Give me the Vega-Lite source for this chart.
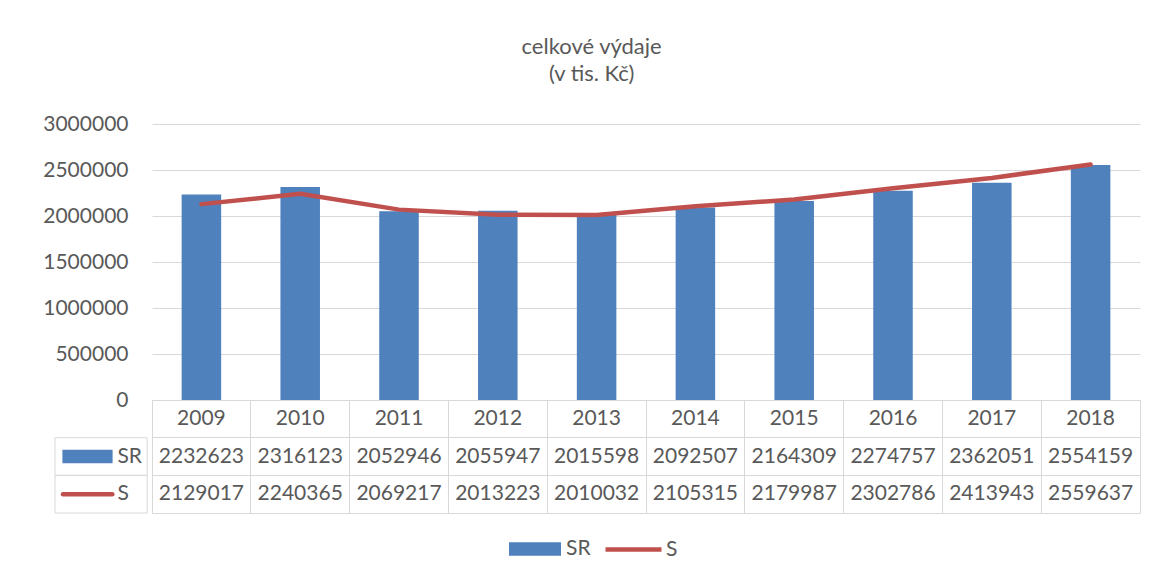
{
  "$schema": "https://vega.github.io/schema/vega-lite/v6.json",
  "padding": {"left": 42, "top": 36, "right": 5, "bottom": 5},
  "background": "white",
  "title": {"text": ["celkové výdaje", "(v tis. Kč)"], "fontSize": 22, "fontWeight": "normal", "color": "#595959", "font": "Lato", "anchor": "middle", "lineHeight": 27, "offset": 27},
  "datasets": {
    "d": [
      {"year": "2009", "SR": 2232623, "S": 2129017},
      {"year": "2010", "SR": 2316123, "S": 2240365},
      {"year": "2011", "SR": 2052946, "S": 2069217},
      {"year": "2012", "SR": 2055947, "S": 2013223},
      {"year": "2013", "SR": 2015598, "S": 2010032},
      {"year": "2014", "SR": 2092507, "S": 2105315},
      {"year": "2015", "SR": 2164309, "S": 2179987},
      {"year": "2016", "SR": 2274757, "S": 2302786},
      {"year": "2017", "SR": 2362051, "S": 2413943},
      {"year": "2018", "SR": 2554159, "S": 2559637}
    ]
  },
  "spacing": 0,
  "resolve": {"scale": {"fill": "shared", "stroke": "shared"}, "legend": {"fill": "shared", "stroke": "shared"}},
  "hconcat": [
    {
      "spacing": 0,
      "bounds": "flush",
      "vconcat": [
        {
          "width": 96,
          "height": 276,
          "view": {"stroke": null},
          "data": {"name": "d"},
          "mark": {"type": "point", "opacity": 0},
          "encoding": {
            "y": {"field": "SR", "type": "quantitative", "scale": {"domain": [0, 3000000], "nice": false},
              "axis": {"orient": "left", "offset": -96, "values": [0, 500000, 1000000, 1500000, 2000000, 2500000, 3000000], "format": "d", "title": null, "grid": false, "domain": false, "ticks": false, "labelFontSize": 21, "labelColor": "#595959", "labelPadding": 23}}
          }
        },
        {
          "width": 96,
          "height": 113,
          "view": {"stroke": null},
          "data": {"values": [{"series": "SR"}, {"series": "S"}]},
          "encoding": {
            "y": {"field": "series", "type": "nominal", "scale": {"type": "band", "domain": ["year", "SR", "S"], "paddingInner": 0, "paddingOuter": 0}, "axis": null}
          },
          "layer": [
            {
              "mark": {"type": "rect", "fill": "transparent", "stroke": "#d9d9d9", "strokeWidth": 1},
              "encoding": {"x": {"datum": 0, "type": "quantitative", "scale": {"domain": [0, 96]}, "axis": null}, "x2": {"datum": 96}}
            },
            {
              "transform": [{"filter": "datum.series === 'SR'"}],
              "mark": {"type": "bar", "color": "#4f81bd", "height": {"band": 0.36}},
              "encoding": {"x": {"datum": 7.7, "type": "quantitative"}, "x2": {"datum": 60}}
            },
            {
              "transform": [{"filter": "datum.series === 'S'"}],
              "mark": {"type": "rule", "color": "#c0504d", "strokeWidth": 4.5, "strokeCap": "round"},
              "encoding": {"x": {"datum": 8.3, "type": "quantitative"}, "x2": {"datum": 59.7}}
            },
            {
              "mark": {"type": "text", "align": "left", "baseline": "middle", "fontSize": 21, "color": "#595959"},
              "encoding": {"x": {"datum": 65, "type": "quantitative"}, "text": {"field": "series"}}
            }
          ]
        }
      ]
    },
    {
      "spacing": 0,
      "bounds": "flush",
      "vconcat": [
        {
          "width": 988,
          "height": 276,
          "view": {"stroke": null},
          "data": {"name": "d"},
          "transform": [{"fold": ["SR", "S"], "as": ["series", "value"]}],
          "encoding": {
            "x": {"field": "year", "type": "nominal", "axis": null, "scale": {"type": "band", "paddingInner": 0.6, "paddingOuter": 0.3}},
            "y": {"field": "value", "type": "quantitative", "scale": {"domain": [0, 3000000], "nice": false},
              "axis": {"values": [0, 500000, 1000000, 1500000, 2000000, 2500000, 3000000], "title": null, "grid": true, "gridColor": "#d9d9d9", "gridWidth": 1, "domain": false, "ticks": false, "labels": false, "minExtent": 0, "maxExtent": 0}}
          },
          "layer": [
            {
              "transform": [{"filter": "datum.series === 'SR'"}],
              "mark": {"type": "bar"},
              "encoding": {"fill": {"field": "series", "type": "nominal", "title": null, "scale": {"domain": ["SR"], "range": ["#4f81bd"]},
                "legend": {"orient": "none", "legendX": 464, "legendY": 409, "direction": "horizontal", "padding": 0, "symbolType": "M-1.625,-0.42H1.625V0.42H-1.625Z", "symbolSize": 1024, "symbolStrokeWidth": 0, "labelOffset": 15, "labelFontSize": 21, "labelColor": "#595959"}}}
            },
            {
              "transform": [{"filter": "datum.series === 'S'"}],
              "mark": {"type": "line", "strokeWidth": 4.5, "strokeCap": "round"},
              "encoding": {"stroke": {"field": "series", "type": "nominal", "title": null, "scale": {"domain": ["S"], "range": ["#c0504d"]},
                "legend": {"orient": "none", "legendX": 548, "legendY": 395, "direction": "horizontal", "padding": 0, "symbolType": "stroke", "symbolSize": 3136, "symbolStrokeWidth": 4.5, "labelOffset": 2, "labelFontSize": 21, "labelColor": "#595959"}}}
            }
          ]
        },
        {
          "width": 988,
          "height": 113,
          "view": {"stroke": "#d9d9d9"},
          "data": {"name": "d"},
          "layer": [
            {
              "mark": {"type": "text", "baseline": "middle", "fontSize": 21, "color": "#595959"},
              "encoding": {
                "x": {"field": "year", "type": "nominal", "scale": {"type": "band", "paddingInner": 0, "paddingOuter": 0},
                  "axis": {"grid": true, "gridColor": "#d9d9d9", "bandPosition": 0, "domain": false, "ticks": false, "labels": false, "title": null}},
                "y": {"datum": "year", "type": "nominal", "scale": {"type": "band", "domain": ["year", "SR", "S"], "paddingInner": 0, "paddingOuter": 0},
                  "axis": {"grid": true, "gridColor": "#d9d9d9", "bandPosition": 0, "domain": false, "ticks": false, "labels": false, "title": null}},
                "text": {"field": "year"}
              }
            },
            {
              "transform": [{"fold": ["SR", "S"], "as": ["series", "value"]}],
              "mark": {"type": "text", "baseline": "middle", "fontSize": 21, "color": "#595959"},
              "encoding": {
                "x": {"field": "year", "type": "nominal"},
                "y": {"field": "series", "type": "nominal"},
                "text": {"field": "value", "type": "quantitative", "format": "d"}
              }
            }
          ]
        }
      ]
    }
  ],
  "config": {
    "font": "Lato",
    "view": {"stroke": null},
    "legend": {"labelFont": "Lato"}
  }
}
